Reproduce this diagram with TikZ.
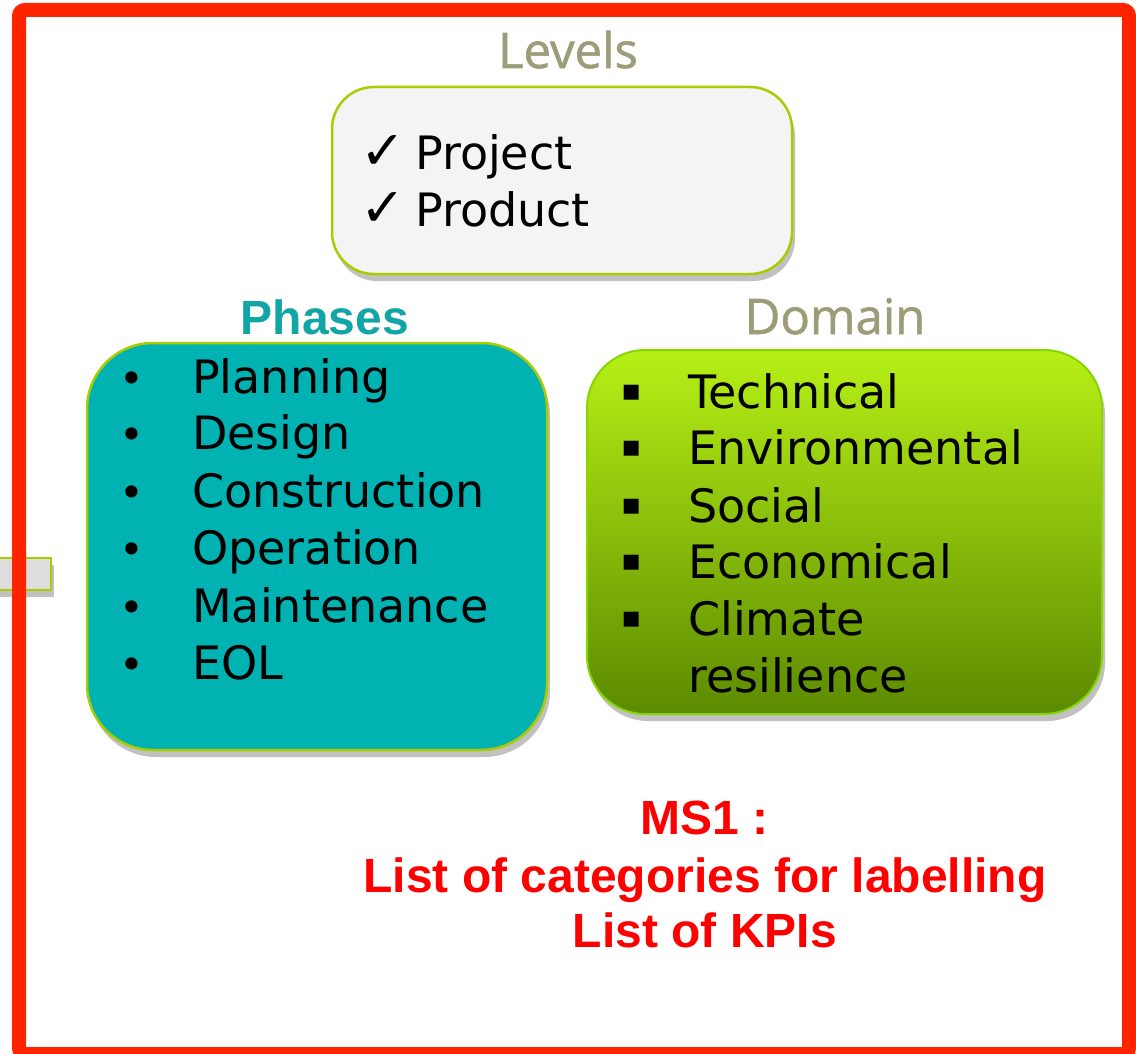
\documentclass[tikz,border=0pt]{standalone}
\usepackage{fontspec}
\setmainfont{DejaVu Sans}
\newfontfamily\arialb{Liberation Sans}[BoldFont={Liberation Sans Bold}]
\newfontfamily\dejavu{DejaVu Sans}
\newfontfamily\headfont{Open Sans}[FakeBold=1.2]
\usetikzlibrary{shadows}
\definecolor{framered}{HTML}{FF2400}
\definecolor{limeb}{HTML}{A8CC00}
\definecolor{tealfill}{HTML}{00B2B2}
\definecolor{headgray}{HTML}{9C9C78}
\definecolor{headteal}{HTML}{12A5A5}
\definecolor{msred}{HTML}{FF0000}
\definecolor{boxgray}{HTML}{F4F4F4}
\definecolor{tabgray}{HTML}{DDDDDD}
\definecolor{greentop}{HTML}{B6F016}
\definecolor{greenbot}{HTML}{5C8A00}
\tikzset{
  boxshadow/.style={drop shadow={shadow xshift=3pt, shadow yshift=-7pt, opacity=0.35, fill=black!70}},
  bodytext/.style={anchor=base west, inner sep=0pt, font=\fontsize{46}{55}\selectfont, text=black},
  bullettext/.style={anchor=base, inner sep=0pt, font=\fontsize{42}{50}\selectfont, text=black},
  sqbullet/.style={anchor=base, inner sep=0pt, font=\dejavu\fontsize{30}{34}\selectfont, text=black},
  checktext/.style={anchor=base west, inner sep=0pt, font=\dejavu\fontsize{54}{60}\selectfont, text=black},
  headtext/.style={anchor=base, inner sep=0pt, font=\headfont\fontsize{49}{58}\selectfont, text=headgray},
  mstext/.style={anchor=base, inner sep=0pt, font=\arialb\bfseries\fontsize{48}{56}\selectfont, text=msred},
}
\begin{document}
\begin{tikzpicture}[x=1pt,y=-1pt]
\useasboundingbox (0,0) rectangle (1136,1054);
\begin{scope}
\clip (0,0) rectangle (1136,1054);
% left tab
\path[fill=tabgray, draw=limeb, line width=2.5pt, boxshadow] (-20,558) rectangle (51,590);
% frame
\draw[framered, line width=14pt, rounded corners=6pt] (19,10) rectangle (1129,1054);
\end{scope}

% Levels box
\path[fill=boxgray, draw=limeb, line width=2.5pt, rounded corners=42pt, boxshadow] (332,87) rectangle (792,274);
\node[headtext] (levh) at (568,68) {Levels};
\node[checktext] (chk1) at (360,170) {✓};
\node[bodytext] (proj) at (415,170) {Project};
\node[checktext] (chk2) at (360,226) {✓};
\node[bodytext] (prod) at (415,226) {Product};

% Phases box
\node[anchor=base, inner sep=0pt, font=\arialb\bfseries\fontsize{48}{56}\selectfont, text=headteal] (phh) at (325,334) {Phases};
\path[fill=tealfill, draw=limeb, line width=2.5pt, rounded corners=66pt, boxshadow] (87,343) rectangle (547,750);
\foreach \t/\yy/\nm in {Planning/393/p1, Design/449/p2, Construction/507/p3, Operation/564/p4, Maintenance/622/p5, EOL/679/p6}{
  \node[bullettext] (b\nm) at (132,\yy) {•};
  \node[bodytext] (\nm) at (192,\yy) {\t};
}

% Domain box
\node[headtext] (domh) at (835,334) {Domain};
\path[top color=greentop, bottom color=greenbot, draw=limeb!80!green, line width=2pt, rounded corners=58pt, boxshadow] (587,350) rectangle (1102,714);
\foreach \t/\yy/\nm in {Technical/408/d1, Environmental/464/d2, Social/522/d3, Economical/578/d4, Climate/635/d5}{
  \node[sqbullet] (b\nm) at (632,\yy-8) {▪};
  \node[bodytext] (\nm) at (688,\yy) {\t};
}
\node[bodytext] (d6) at (688,692) {resilience};

% MS1 text
\node[mstext] (ms1) at (705,834) {MS1 :};
\node[mstext] (ms2) at (705,892) {List of categories for labelling};
\node[mstext] (ms3) at (705,947) {List of KPIs};
\end{tikzpicture}
\end{document}
